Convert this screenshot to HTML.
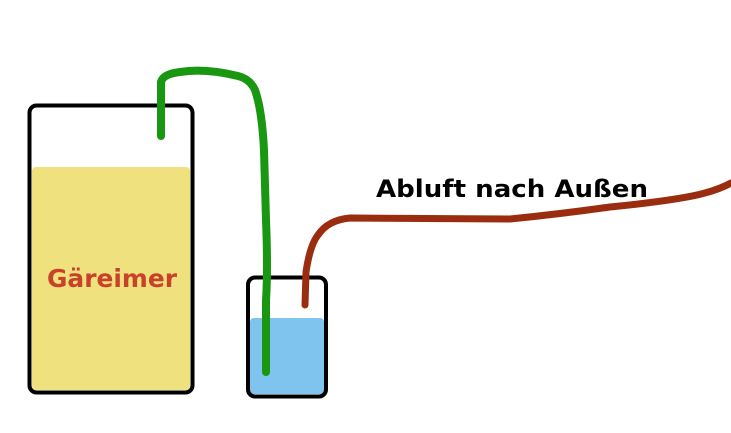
<!DOCTYPE html>
<html><head><meta charset="utf-8"><style>
html,body{margin:0;padding:0;background:#fff;width:731px;height:433px;overflow:hidden}
</style></head><body>
<svg width="731" height="433" viewBox="0 0 731 433" xmlns="http://www.w3.org/2000/svg">
<rect x="32" y="167" width="158" height="223" rx="4" fill="#EFE27E"/>
<rect x="29.5" y="105.5" width="163" height="287" rx="7" fill="none" stroke="#000" stroke-width="4"/>
<text x="112" y="287" text-anchor="middle" font-family="DejaVu Sans, sans-serif" font-weight="bold" font-size="25" fill="#C8412A" textLength="130" lengthAdjust="spacingAndGlyphs">Gäreimer</text>
<rect x="250" y="318" width="74" height="76" rx="4" fill="#7EC4EE"/>
<rect x="248" y="277.5" width="78" height="119" rx="7" fill="none" stroke="#000" stroke-width="4"/>
<path d="M161,136 L161,82 Q163,74 180,72 Q205,68 238,76 Q250,79 255,90 Q262,110 264,150 L266,220 Q268,270 266,300 L266,372" fill="none" stroke="#1A9710" stroke-width="8" stroke-linecap="round" stroke-linejoin="round"/>
<path d="M305,305 L306,272 Q310,245 318,235 Q328,220 350,218 L510,219 Q560,214 610,207 Q680,200 705,193 Q720,189 731,183" fill="none" stroke="#9A2D0F" stroke-width="7" stroke-linecap="round" stroke-linejoin="round"/>
<text x="376" y="197" font-family="DejaVu Sans, sans-serif" font-weight="bold" font-size="24" fill="#000" textLength="272" lengthAdjust="spacingAndGlyphs">Abluft nach Außen</text>
</svg>
</body></html>
